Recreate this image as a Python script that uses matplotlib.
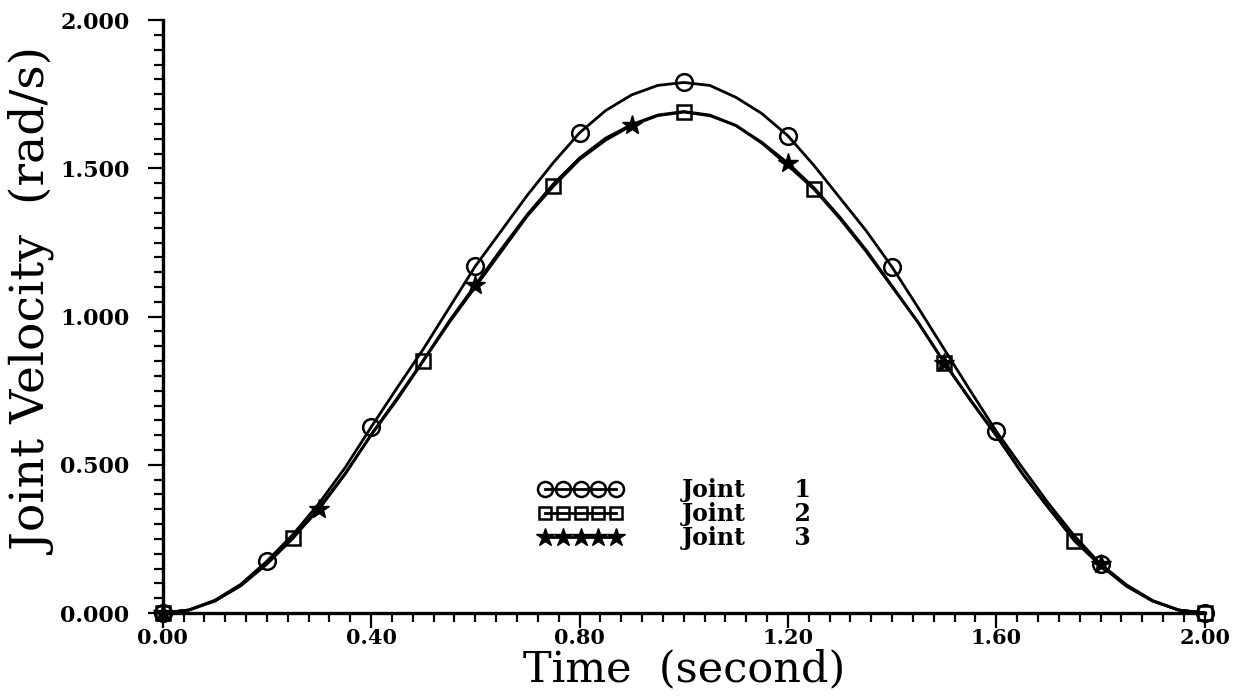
import numpy as np
import matplotlib
matplotlib.use("Agg")
import matplotlib.pyplot as plt
from matplotlib.lines import Line2D
from matplotlib.ticker import MultipleLocator, FormatStrFormatter

# sample times (s), values every 0.05 s
t = [0.00, 0.05, 0.10, 0.15, 0.20, 0.25, 0.30, 0.35, 0.40, 0.45,
     0.50, 0.55, 0.60, 0.65, 0.70, 0.75, 0.80, 0.85, 0.90, 0.95,
     1.00, 1.05, 1.10, 1.15, 1.20, 1.25, 1.30, 1.35, 1.40, 1.45,
     1.50, 1.55, 1.60, 1.65, 1.70, 1.75, 1.80, 1.85, 1.90, 1.95, 2.00]

joint1 = [0.000, 0.010, 0.043, 0.097, 0.175, 0.265, 0.370, 0.490, 0.627, 0.760,
          0.890, 1.030, 1.170, 1.290, 1.410, 1.520, 1.620, 1.695, 1.748, 1.780,
          1.790, 1.780, 1.740, 1.685, 1.610, 1.510, 1.400, 1.290, 1.167, 1.030,
          0.890, 0.750, 0.613, 0.490, 0.370, 0.260, 0.165, 0.095, 0.042, 0.010, 0.000]

joint2 = [0.000, 0.010, 0.040, 0.092, 0.165, 0.252, 0.355, 0.470, 0.600, 0.720,
          0.850, 0.980, 1.100, 1.220, 1.340, 1.440, 1.530, 1.595, 1.645, 1.678,
          1.690, 1.678, 1.645, 1.585, 1.510, 1.430, 1.330, 1.220, 1.100, 0.980,
          0.845, 0.720, 0.600, 0.470, 0.355, 0.243, 0.160, 0.090, 0.040, 0.010, 0.000]

joint3 = [0.000, 0.010, 0.041, 0.094, 0.168, 0.255, 0.350, 0.468, 0.602, 0.725,
          0.852, 0.985, 1.107, 1.228, 1.345, 1.448, 1.535, 1.602, 1.648, 1.680,
          1.692, 1.680, 1.645, 1.588, 1.518, 1.435, 1.335, 1.225, 1.103, 0.980,
          0.845, 0.718, 0.598, 0.470, 0.355, 0.248, 0.165, 0.092, 0.041, 0.010, 0.000]

names = ["Joint      1", "Joint      2", "Joint      3"]
markers = ["o", "s", "*"]
mark_every = [4, 5, 6]

fig = plt.figure(figsize=(12.42, 6.97), dpi=100)
ax = fig.add_axes([0.131, 0.1205, 0.839, 0.8505])

styles = [dict(ms=12, mfc="none", mew=1.8),
          dict(ms=10, mfc="none", mew=1.8),
          dict(ms=15, mfc="k", mew=1.0)]
series = [joint1, joint2, joint3]
for y, m, ev, st in zip(series, markers, mark_every, styles):
    ax.plot(t, y, color="k", lw=2.0, marker=m, markevery=ev, mec="k",
            clip_on=False, **st)

ax.set_xlim(0, 2.0)
ax.set_ylim(0, 2.0)
for s in ["top", "right"]:
    ax.spines[s].set_visible(False)
for s in ["left", "bottom"]:
    ax.spines[s].set_linewidth(2.4)

ax.xaxis.set_major_locator(MultipleLocator(0.4))
ax.xaxis.set_minor_locator(MultipleLocator(0.04))
ax.yaxis.set_major_locator(MultipleLocator(0.5))
ax.yaxis.set_minor_locator(MultipleLocator(0.05))
ax.xaxis.set_major_formatter(FormatStrFormatter("%.2f"))
ax.yaxis.set_major_formatter(FormatStrFormatter("%.3f"))
ax.tick_params(axis="x", which="major", direction="out", length=11, width=1.6, pad=0)
ax.tick_params(axis="x", which="minor", direction="out", length=6.5, width=1.6)
ax.tick_params(axis="y", which="major", direction="out", length=11, width=1.6, pad=13)
ax.tick_params(axis="y", which="minor", direction="out", length=6.5, width=1.6)
for lab in ax.get_xticklabels():
    lab.set_fontfamily("DejaVu Serif")
    lab.set_fontweight("bold")
    lab.set_fontsize(15)
for lab in ax.get_yticklabels():
    lab.set_fontfamily("DejaVu Serif")
    lab.set_fontweight("bold")
    lab.set_fontsize(16)

ax.set_xlabel("Time  (second)", family="DejaVu Serif", fontsize=31, labelpad=0)
ax.set_ylabel("Joint Velocity  (rad/s)", family="DejaVu Serif", fontsize=34)
ax.yaxis.set_label_coords(-0.100, 0.525)

handles = [Line2D([], [], color="k", lw=2.0, marker=m, mec="k", **st)
           for m, st in zip(markers, styles)]
ax.legend(handles, names, loc="upper left", bbox_to_anchor=(0.349, 0.248),
          frameon=False, numpoints=5, handlelength=3.6, handletextpad=2.5,
          labelspacing=0.0, markerscale=0.9, borderpad=0,
          prop=dict(family="DejaVu Serif", weight="bold", size=17))

fig.savefig("out.png", dpi=100)
